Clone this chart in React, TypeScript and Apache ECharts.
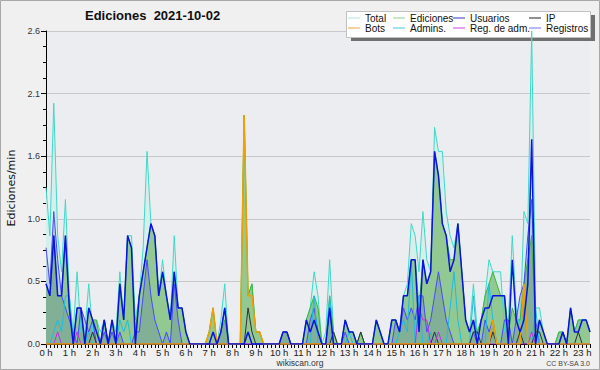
import React, { useEffect, useRef } from 'react';
import * as echarts from 'echarts';

// 10-minute slots from 0:00 to 23:20
const slots: string[] = Array.from({ length: 141 }, (_, i) =>
  `${Math.floor(i / 6)}:${String((i % 6) * 10).padStart(2, '0')}`
);

const yTicks = [0, 0.52, 1.04, 1.56, 2.08, 2.6];

const total = [
  1.3,0.9,2.0,0.9,0.6,1.2, 0.4,0.1,0.6,0.1,0.1,0.5,
  0.1,0.2,0.1,0.2,0.0,0.2, 0.1,0.6,0.2,0.9,0.9,0.2,
  0.4,0.8,1.6,1.0,0.9,0.4, 0.7,0.4,0.2,0.9,0.3,0.3,
  0.1,0,0,0,0,0, 0.1,0.3,0,0.2,0.5,0,
  0,0,0,1.9,0.4,0.5, 0.1,0.1,0,0,0,0,
  0,0.1,0.1,0,0,0, 0,0.2,0.3,0.6,0.4,0,
  0.1,0.7,0.1,0,0,0.2, 0.1,0.1,0,0.1,0,0,
  0,0.2,0.1,0,0,0.2, 0.2,0.1,0.4,0.5,1.0,0.9,
  0.6,1.1,0.7,0.6,1.8,1.6, 1.6,1.1,0.9,0.8,1.0,0.6,
  0.2,0.1,0.5,0.1,0.2,0.4, 0.7,0.6,0.6,0.6,0.1,0.2,
  0.9,0.3,0.1,1.1,1.0,2.6, 0.3,0.3,0.1,0,0,0,
  0.1,0.1,0,0.3,0.1,0.2, 0.2,0.2,0.1,
];

const ediciones = [
  0.5,0.4,0.9,0.4,0.4,0.9, 0.3,0,0.3,0.3,0,0.3,
  0.2,0.2,0,0.2,0,0.2, 0,0.5,0.2,0.9,0.8,0.1,
  0.4,0.6,0.8,1.0,0.9,0.4, 0.6,0.4,0.2,0.6,0.3,0.3,
  0.1,0,0,0,0,0, 0.1,0.3,0,0.1,0.2,0,
  0,0,0,1.9,0.4,0.5, 0.1,0.1,0,0,0,0,
  0,0.1,0.1,0,0,0, 0,0.2,0.3,0.4,0.3,0,
  0,0.4,0.1,0,0,0.2, 0.1,0.1,0,0.1,0,0,
  0,0.2,0.1,0,0,0.2, 0.2,0.1,0.4,0.4,0.7,0.7,
  0.3,0.7,0.5,0.6,1.6,1.4, 1.0,0.9,0.7,0.7,1.0,0.6,
  0.2,0.1,0.2,0.1,0.2,0.4, 0.5,0.6,0.5,0.4,0.4,0.1,
  0.3,0.2,0.2,0.5,0.7,0.9, 0.1,0.2,0.1,0,0,0,
  0.1,0.1,0,0.3,0.1,0.2, 0.2,0.2,0.1,
];

const usuarios = [
  0.5,0.4,0.9,0.4,0.4,0.9, 0.3,0,0.3,0.3,0,0.3,
  0.2,0.1,0,0.2,0,0.2, 0,0.5,0.2,0.9,0.8,0,
  0.4,0.6,0.8,1.0,0.9,0.4, 0.6,0.4,0.2,0.6,0.3,0.3,
  0.1,0,0,0,0,0, 0,0.1,0,0.1,0.3,0,
  0,0,0,0,0.1,0, 0,0,0,0,0,0,
  0,0.1,0.1,0,0,0, 0,0.2,0.1,0.2,0.1,0,
  0,0.3,0,0,0,0.2, 0.1,0.1,0,0,0,0,
  0,0.2,0.1,0,0,0.2, 0.2,0.1,0.4,0.4,0.7,0.7,
  0.1,0.7,0.5,0.6,1.6,1.4, 1.0,0.9,0.6,0.7,1.0,0.6,
  0.2,0.1,0.2,0,0.2,0.3, 0.3,0.4,0.4,0.4,0.4,0,
  0.7,0.2,0.1,0.2,0.5,1.7, 0,0.2,0.1,0,0,0,
  0,0.1,0,0.3,0.1,0.1, 0.2,0.2,0.1,
];

const ip = [
  0,0,0,0,0,0, 0,0,0,0,0,0,
  0.1,0,0,0.2,0,0, 0,0,0,0,0,0,
  0,0,0,0,0,0, 0,0,0,0,0,0,
  0,0,0,0,0,0, 0,0,0,0,0,0,
  0,0,0,0,0.3,0.1, 0,0,0,0,0,0,
  0,0,0,0,0,0, 0,0,0,0,0,0,
  0,0,0.1,0,0,0, 0,0,0,0.1,0,0,
  0,0,0,0,0,0, 0,0,0,0,0,0,
  0,0,0,0,0.1,0, 0,0,0,0,0,0,
  0,0,0.1,0.1,0,0, 0,0.1,0,0,0,0,
  0,0,0.1,0,0,0, 0.1,0.1,0,0,0,0,
  0,0.1,0,0,0,0.1, 0,0,0,
];

const bots = [
  0,0,0,0,0,0, 0,0,0,0,0,0,
  0,0,0,0,0,0, 0,0,0,0,0,0,
  0,0,0,0,0,0, 0,0,0,0,0,0,
  0,0,0,0,0,0, 0.1,0.3,0,0,0,0,
  0,0,0,1.9,0.4,0.4, 0.1,0.1,0,0,0,0,
  0,0,0,0,0,0, 0,0,0,0,0,0,
  0,0,0,0,0,0, 0,0,0,0,0,0,
  0,0,0,0,0,0, 0,0,0,0,0,0,
  0,0,0,0,0,0, 0,0,0,0,0,0,
  0,0,0,0,0,0, 0,0.2,0,0,0,0,
  0,0,0,0.5,0,0, 0,0,0,0,0,0,
  0,0,0,0,0,0, 0,0,0,
];

const admins = [
  0,0,0.1,0.2,0.1,0.4, 0.4,0,0,0,0,0.1,
  0,0,0,0,0,0, 0,0.2,0.1,0.2,0,0,
  0,0,0,0,0,0, 0,0,0,0,0,0,
  0,0,0,0,0,0, 0,0,0,0,0,0,
  0,0,0,0,0.1,0, 0,0,0,0,0,0,
  0,0,0,0,0,0, 0,0,0,0.4,0,0,
  0,0.4,0,0,0,0, 0.1,0,0,0,0,0,
  0,0,0,0,0,0, 0,0.1,0.2,0.1,0.7,0,
  0.4,0,0,0.1,0,0, 0,0,0.3,0.6,0.2,0,
  0,0,0.4,0,0,0, 0.5,0.2,0,0,0,0,
  0,0,0,0.3,0,0, 0.3,0,0,0,0,0,
  0,0,0,0,0,0, 0,0,0,
];

const regAdm = [
  0,0,0,0.1,0,0, 0,0,0.1,0,0,0,
  0,0,0,0,0,0, 0,0,0,0,0,0,
  0,0,0,0,0,0, 0,0,0,0,0,0,
  0,0,0,0,0,0, 0,0,0,0,0,0,
  0,0,0,0,0,0, 0,0,0,0,0,0,
  0,0,0,0,0,0, 0,0,0,0,0,0,
  0,0,0,0,0,0, 0,0,0,0,0,0,
  0,0,0,0,0,0, 0,0,0,0,0,0,
  0.3,0.2,0.2,0,0,0.1, 0,0,0,0,0,0,
  0,0,0,0,0,0, 0,0,0,0,0,0,
  0,0,0,0,0,0.1, 0,0,0,0,0,0,
  0,0,0,0,0,0, 0,0,0,
];

const registros = [
  0.8,0.5,1.1,0.7,0.4,0.3, 0.2,0.1,0,0.3,0.2,0.1,
  0.2,0,0,0.1,0,0.1, 0,0.1,0,0,0,0.1,
  0.1,0.4,0.7,0.4,0.2,0.1, 0,0.1,0,0.5,0.2,0,
  0,0,0,0,0,0, 0,0,0,0.1,0.3,0,
  0,0,0,0,0,0, 0,0,0,0,0,0,
  0,0.1,0.1,0,0,0, 0,0,0.2,0.3,0.1,0,
  0,0.3,0,0,0,0.1, 0,0,0,0,0,0,
  0,0,0,0,0,0, 0.2,0.1,0.3,0.2,0.3,0.2,
  0.4,0.4,0.1,0.2,0.4,0.6, 0.4,0.2,0.1,0,0,0,
  0,0,0.1,0,0,0.2, 0.1,0.2,0,0,0.2,0.2,
  0,0.2,0.4,0.5,0.9,1.2, 0.2,0,0,0,0,0,
  0,0,0,0,0,0, 0,0,0,
];

const FONT = 'DejaVu Sans, sans-serif';
const SANS = 'Liberation Sans, Arial, sans-serif';

const legendItems = [
  { name: 'Total', icon: '#a8e6e2', left: 348, top: 13 },
  { name: 'Ediciones', icon: '#8fd08f', left: 393, top: 13 },
  { name: 'Usuarios', icon: '#3434c8', left: 453, top: 13 },
  { name: 'IP', icon: '#222222', left: 529, top: 13 },
  { name: 'Bots', icon: '#f0a030', left: 348, top: 23 },
  { name: 'Admins.', icon: '#40c4dc', left: 393, top: 23 },
  { name: 'Reg. de adm.', icon: '#cc44dd', left: 453, top: 23 },
  { name: 'Registros', icon: '#7070f0', left: 529, top: 23 },
];

function lineSeries(name: string, data: number[], color: string, width: number, area?: string, areaOpacity = 1) {
  return {
    name,
    type: 'line',
    data,
    color,
    showSymbol: false,
    symbol: 'none',
    lineStyle: { color, width },
    areaStyle: area ? { color: area, opacity: areaOpacity } : undefined,
    emphasis: { disabled: true },
  };
}

export default function App() {
  const ref = useRef<HTMLDivElement>(null);
  useEffect(() => {
    if (!ref.current) return;
    const chart = echarts.init(ref.current, null, { renderer: 'svg' });
    chart.setOption({
      animation: false,
      backgroundColor: '#f0f0f0',
      textStyle: { fontFamily: FONT },
      title: {
        text: 'Ediciones  2021-10-02',
        left: 85,
        top: 9,
        padding: 0,
        textStyle: { fontFamily: SANS, fontSize: 13, fontWeight: 'bold', color: '#111' },
      },
      legend: legendItems.map((l) => ({
        data: [{ name: l.name, itemStyle: { color: l.icon } }],
        left: l.left,
        top: l.top,
        padding: 0,
        icon: 'rect',
        itemWidth: 12,
        itemHeight: 1,
        selectedMode: false,
        textStyle: { fontFamily: SANS, fontSize: 10, color: '#111' },
      })),
      grid: {
        left: 46,
        right: 10,
        top: 31,
        bottom: 26,
        show: true,
        backgroundColor: '#ecedf0',
        borderWidth: 0,
      },
      xAxis: {
        type: 'category',
        data: slots,
        boundaryGap: false,
        axisLine: { lineStyle: { color: '#000', width: 1 } },
        axisTick: { show: true, interval: 0, length: 4, lineStyle: { color: '#000' } },
        axisLabel: {
          interval: (i: number) => i % 6 === 0,
          formatter: (_v: string, i: number) => `${Math.floor(i / 6)} h`,
          fontSize: 9.5,
          color: '#222',
          margin: 3,
          fontFamily: SANS,
        },
        splitLine: { show: false },
      },
      yAxis: {
        type: 'value',
        min: yTicks[0],
        max: yTicks[yTicks.length - 1],
        interval: yTicks[1],
        axisLine: { show: true, lineStyle: { color: '#000', width: 1 } },
        axisTick: { show: true, length: 5, lineStyle: { color: '#000' } },
        minorTick: { show: true, splitNumber: 4, length: 3, lineStyle: { color: '#000' } },
        axisLabel: {
          formatter: (v: number) => v.toFixed(1),
          fontSize: 9,
          color: '#333',
          margin: 6,
          fontFamily: SANS,
        },
        splitLine: { show: true, lineStyle: { color: '#c8c8c8', width: 1 } },
      },
      graphic: [
        { type: 'rect', shape: { x: 0.5, y: 0.5, width: 599, height: 369 }, style: { fill: 'none', stroke: '#a8a8a8', lineWidth: 1 }, z: 100 },
        { type: 'rect', shape: { x: 351, y: 15, width: 244, height: 26 }, style: { fill: '#707070' }, z: 1 },
        { type: 'rect', shape: { x: 346.5, y: 11.5, width: 244, height: 26 }, style: { fill: '#ffffff', stroke: '#c0c0c0', lineWidth: 1 }, z: 2 },
        {
          type: 'text', x: 11, y: 188, rotation: Math.PI / 2,
          style: { text: 'Ediciones/min', fontFamily: FONT, fontSize: 11, fill: '#111', align: 'center', verticalAlign: 'middle' },
        },
        {
          type: 'text', x: 300, y: 363,
          style: { text: 'wikiscan.org', fontFamily: SANS, fontSize: 8.5, fill: '#333', align: 'center', verticalAlign: 'middle' },
        },
        {
          type: 'text', x: 590, y: 363,
          style: { text: 'CC BY-SA 3.0', fontFamily: SANS, fontSize: 7, fill: '#444', align: 'right', verticalAlign: 'middle' },
        },
      ],
      series: [
        lineSeries('Total', total, '#40d8c8', 1, '#d6efec'),
        lineSeries('Ediciones', ediciones, '#3cb43c', 1, '#92c892'),
        lineSeries('Registros', registros, '#4848ff', 1, '#4050b0', 0.2),
        lineSeries('Admins.', admins, '#20bce0', 1),
        lineSeries('IP', ip, '#303030', 1),
        lineSeries('Reg. de adm.', regAdm, '#c030e0', 1),
        lineSeries('Bots', bots, '#f0a000', 1.5),
        lineSeries('Usuarios', usuarios, '#0a14e0', 1.5),
      ],
    });
    return () => chart.dispose();
  }, []);
  return <div ref={ref} style={{ position: 'fixed', left: 0, top: 0, width: 600, height: 370 }} />;
}
